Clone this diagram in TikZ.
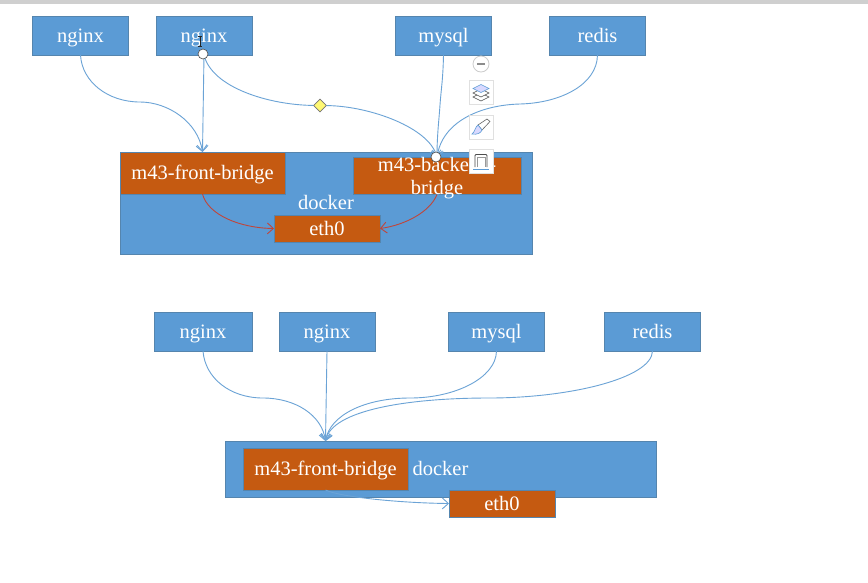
\documentclass[tikz,border=0pt]{standalone}
\usepackage{fontspec}
\setmainfont{Liberation Serif}
\usetikzlibrary{arrows.meta,shapes.geometric}
\definecolor{boxblue}{HTML}{5B9BD5}
\definecolor{boxedge}{HTML}{5585AE}
\definecolor{boxbrown}{HTML}{C55A11}
\definecolor{linkblue}{HTML}{6BA3D6}
\definecolor{linkred}{HTML}{C0453A}
\tikzset{
  hostbox/.style={draw=boxedge,line width=0.7pt,fill=boxblue,text=white,inner sep=0pt,outer sep=0pt,
    minimum width=96pt,minimum height=39pt,font=\fontsize{20.5}{23}\selectfont,align=center,
    text height=16pt,text depth=3pt},
  bridgebox/.style={hostbox,fill=boxbrown},
  link/.style={draw=linkblue,line width=0.9pt,-{Straight Barb[length=6pt,width=11pt]}},
  redlink/.style={link,draw=linkred},
  toolbox/.style={draw=black!12,line width=1pt,fill=white,minimum size=24pt,inner sep=0pt},
  handle/.style={circle,draw=black!70,fill=white,line width=0.6pt,minimum size=10pt,inner sep=0pt}
}
\begin{document}
\begin{tikzpicture}[x=1pt,y=-1pt]
  \useasboundingbox (0,0) rectangle (868,582);
  \fill[white] (0,0) rectangle (868,582);
  \fill[black!19] (0,0) rectangle (868,4);

  \node[hostbox] (a1) at (80.5,35.5) {nginx};
  \node[hostbox] (a2) at (204,35.5) {nginx};
  \node[hostbox] (a3) at (443.5,35.5) {mysql};
  \node[hostbox] (a4) at (597.5,35.5) {redis};
  \node[hostbox,minimum width=412pt,minimum height=102pt,text height=15pt] (dock1) at (326,203) {docker};
  \node[bridgebox,minimum width=165pt,minimum height=42pt,text height=15pt] (front1) at (202.5,173) {m43-front-bridge};
  \node[bridgebox,minimum width=168pt,minimum height=36pt,text height=37pt,text depth=-1pt] (back1) at (437,176) {m43-backend-\\bridge};
  \node[bridgebox,minimum width=106pt,minimum height=27pt] (eth1) at (327,228.5) {eth0};

  \node[hostbox,minimum width=98pt] (b1) at (203,331.5) {nginx};
  \node[hostbox] (b2) at (327,331.5) {nginx};
  \node[hostbox] (b3) at (496.5,331.5) {mysql};
  \node[hostbox] (b4) at (652.5,331.5) {redis};
  \node[hostbox,minimum width=431pt,minimum height=56pt] (dock2) at (440.5,469) {docker};
  \node[bridgebox,minimum width=165pt,minimum height=42pt] (front2) at (325.5,469) {m43-front-bridge};
  \node[bridgebox,minimum width=106pt,minimum height=27pt] (eth2) at (502,503.5) {eth0};
  \coordinate (drop) at (325.5,441);

  \node[diamond,draw=black!55,fill=yellow!55,line width=0.6pt,minimum size=13pt,inner sep=0pt] (mid) at (320,105.5) {};

  \draw[link] (a1.south) .. controls (82,82) and (108,102) .. (140,102) .. controls (168,102) and (198,122) .. (front1.north);
  \draw[link] (a2.south) -- (front1.north);
  \draw[draw=linkblue,line width=0.9pt] (a2.south) .. controls (212,88) and (270,105) .. (mid);
  \draw[link] (mid) .. controls (370,106) and (430,128) .. (back1.north);
  \draw[link] (a3.south) .. controls (443,80) and (441,90) .. (440,105) .. controls (439,120) and (437,135) .. (back1.north);
  \draw[link] (a4.south) .. controls (597,85) and (560,103) .. (520,104) .. controls (480,105) and (442,122) .. (back1.north);
  \draw[redlink] (front1.south) .. controls (208,215) and (240,228) .. (eth1.west);
  \draw[redlink] (back1.south) .. controls (430,212) and (405,225) .. (eth1.east);

  \draw[link] (b1.south) .. controls (205,378) and (230,398) .. (263,398) .. controls (295,398) and (322,415) .. (drop);
  \draw[link] (b2.south) -- (drop);
  \draw[link] (b3.south) .. controls (496,378) and (455,398) .. (410,398) .. controls (365,398) and (330,415) .. (drop);
  \draw[link] (b4.south) .. controls (652,378) and (570,398) .. (489,398) .. controls (408,398) and (332,410) .. (drop);
  \draw[link] (front2.south) .. controls (340,497) and (400,503) .. (eth2.west);

  \node[handle] (h1) at (203,54) {};
  \node[handle] (h2) at (436,157) {};

  \node[circle,draw=black!20,fill=white,line width=0.8pt,minimum size=16pt,inner sep=0pt] (t0) at (481,64) {};
  \draw[black!45,line width=1.1pt] (477,64) -- (485,64);
  \node[toolbox] (t1) at (481,92) {};
  \draw[black!70,line width=0.6pt] (473,97) -- (481,93) -- (489,97) -- (481,101) -- cycle;
  \draw[black!70,fill=white,line width=0.6pt] (473,93) -- (481,89) -- (489,93) -- (481,97) -- cycle;
  \draw[boxblue,fill=blue!15,line width=0.6pt] (473,88.5) -- (481,84.5) -- (489,88.5) -- (481,92.5) -- cycle;
  \node[toolbox] (t2) at (481,127) {};
  \draw[black!60,fill=white,line width=0.6pt] (478,125) -- (487,119) -- (490,121.5) -- (482,130) -- cycle;
  \draw[boxblue,fill=blue!15,line width=0.6pt] (478,125) .. controls (475,127) and (475,132) .. (472,134) .. controls (477,135) and (481,133) .. (482,130) -- cycle;
  \node[toolbox] (t3) at (481,161) {};
  \draw[black!70,line width=0.9pt,rounded corners=1pt] (475,167) -- (475,154.5) -- (487,154.5) -- (487,167);
  \draw[black!40,line width=0.8pt] (477,167) -- (477,157) -- (485,157) -- (485,167);
  \draw[boxblue,line width=0.9pt] (473,169) -- (489,169);

  \draw[black!85,line width=0.9pt] (198,36.5) -- (202,36.5) (200,36.5) -- (200,46.5) (198,46.5) -- (202,46.5);
\end{tikzpicture}
\end{document}
